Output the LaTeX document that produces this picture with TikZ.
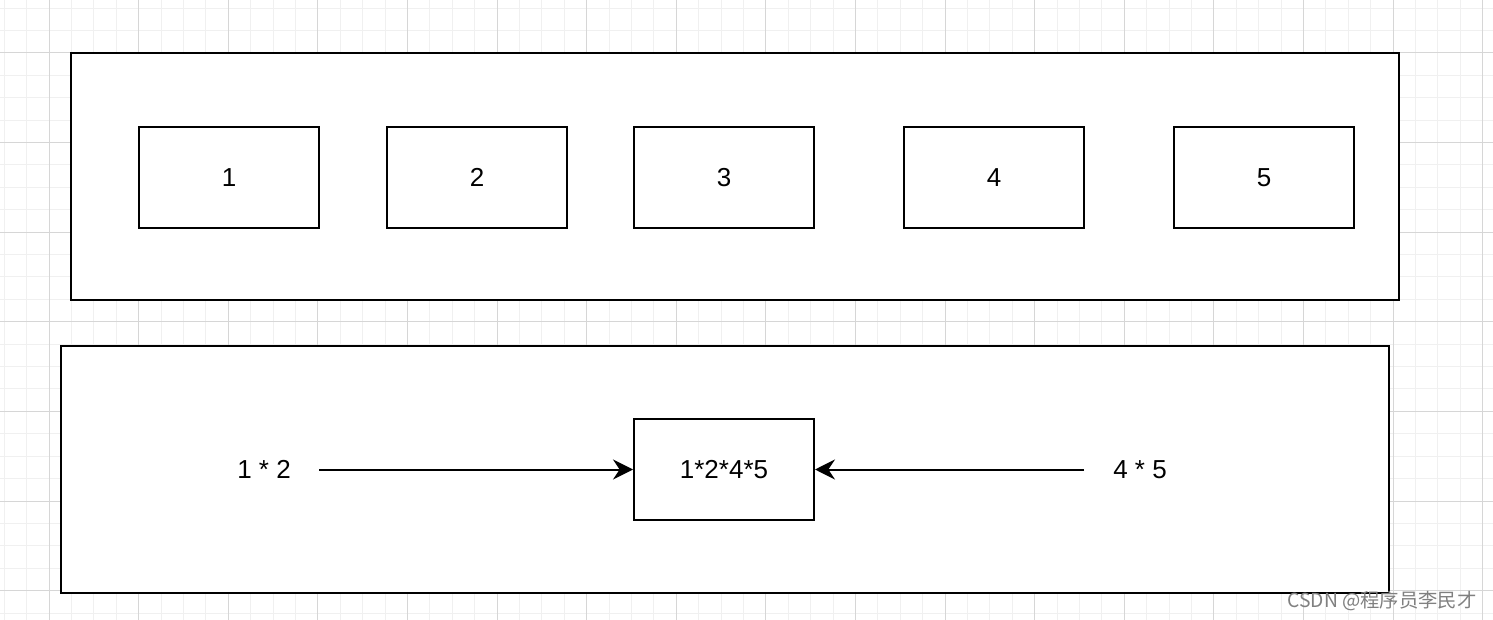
\documentclass[tikz,border=0pt]{standalone}
\usepackage{fontspec}
\setmainfont{Liberation Sans}
\newfontfamily\cjk{Noto Sans CJK SC}
\usetikzlibrary{arrows.meta,positioning}
\definecolor{gridminor}{HTML}{F0F0F0}
\definecolor{gridmajor}{HTML}{D6D6D6}

\begin{document}
\begin{tikzpicture}[
  x=0.75pt,y=-0.75pt,
  >={Stealth[length=15pt,width=15pt,inset=5pt]},
  minorline/.style={draw=gridminor,line width=0.75pt},
  majorline/.style={draw=gridmajor,line width=0.75pt},
  panel/.style={draw,line width=1.5pt,fill=white,minimum width=996pt,minimum height=185.25pt},
  cell/.style={draw,line width=1.5pt,fill=white,minimum width=135pt,minimum height=75.75pt,
    font=\fontsize{19.5}{23}\selectfont},
  lab/.style={font=\fontsize{19.5}{23}\selectfont},
  link/.style={->,line width=1.5pt}
]
\useasboundingbox (0,0) rectangle (1493,620);
\fill[white] (0,0) rectangle (1493,620);
% background grid
\foreach \x in {4.2,26.6,...,1493} \draw[minorline] (\x,0) -- (\x,620);
\foreach \y in {8.2,30.6,...,620} \draw[minorline] (0,\y) -- (1493,\y);
\foreach \x in {49,138.6,...,1493} \draw[majorline] (\x,0) -- (\x,620);
\foreach \y in {53,142.6,...,620} \draw[majorline] (0,\y) -- (1493,\y);

% top panel: the five numbers
\node[panel] (top) at (735,176.5) {};
\node[cell] (n1) at (229,177.5) {1};
\node[cell] (n2) at (477,177.5) {2};
\node[cell] (n3) at (724,177.5) {3};
\node[cell] (n4) at (994,177.5) {4};
\node[cell] (n5) at (1264,177.5) {5};

% bottom panel: the product
\node[panel] (bottom) at (724.5,469.5) {};
\node[cell] (prod) at (724,469.5) {1*2*4*5};
\node[lab] (left) at (264,469.5) {1 * 2};
\node[lab] (right) at (1140,469.5) {4 * 5};
\coordinate (lstart) at (319,469.5);
\coordinate (rstart) at (1084,469.5);
\draw[link] (lstart) -- (prod);
\draw[link] (rstart) -- (prod);

\node[text=black!50,font=\cjk\fontsize{14.5}{17}\selectfont] (mark) at (1382,601) {CSDN @程序员李民才};
\end{tikzpicture}
\end{document}
